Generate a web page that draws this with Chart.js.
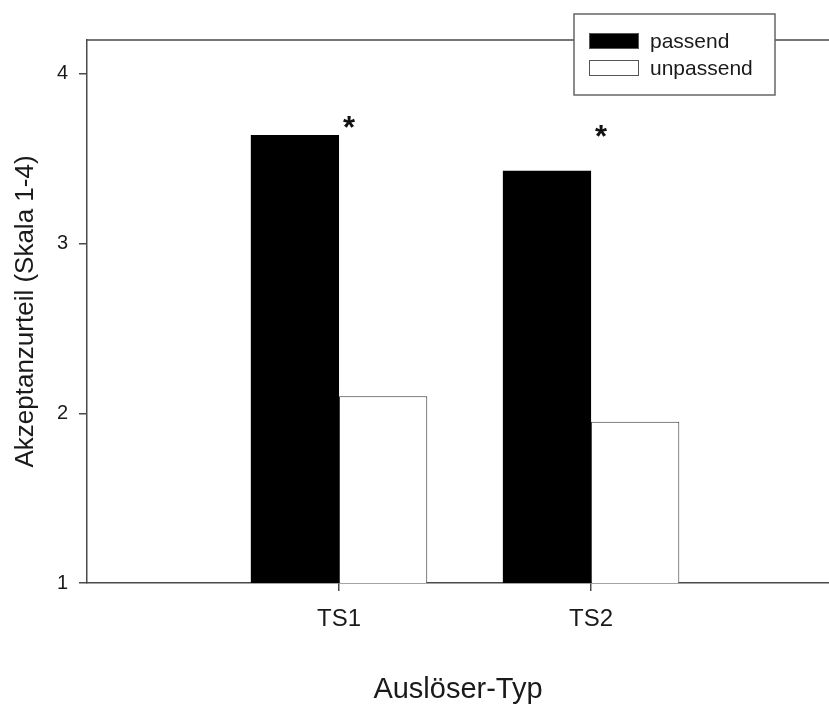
<!DOCTYPE html>
<html>
<head>
<meta charset="utf-8">
<script src="https://cdn.jsdelivr.net/npm/chart.js@4"></script>
<style>
  html, body { margin: 0; padding: 0; background: #fff; overflow: hidden; }
  #wrap { width: 829px; height: 711px; }
</style>
</head>
<body>
<div id="wrap"><canvas id="grafico" width="829" height="711"></canvas></div>
<script>
// Daten
const kategorien = ['TS1', 'TS2'];
const passend = [3.64, 3.43];
const unpassend = [2.10, 1.95];
const yTicks = [1, 2, 3, 4];
const signifikanz = ['*', '*'];

Chart.defaults.font.family = 'Arial, "Liberation Sans", sans-serif';
Chart.defaults.color = '#1a1a1a';

const achsenFarbe = '#4a4a4a';

// Sternchen (Höhe in Skalenwerten)
const sternWert = [3.72, 3.67];

// Rahmen oben + Legende + Sternchen
const extras = {
    id: 'extras',
    afterDraw(chart) {
        const ctx = chart.ctx;
        const area = chart.chartArea;
        const xs = chart.scales.x;
        const ys = chart.scales.y;

        ctx.save();
        // obere Linie
        ctx.strokeStyle = achsenFarbe;
        ctx.lineWidth = 1.5;
        ctx.beginPath();
        ctx.moveTo(area.left, area.top);
        ctx.lineTo(area.right, area.top);
        ctx.stroke();

        // Sternchen
        ctx.fillStyle = '#111';
        ctx.font = 'bold 31px Arial, "Liberation Sans", sans-serif';
        ctx.textAlign = 'center';
        ctx.textBaseline = 'alphabetic';
        signifikanz.forEach((s, i) => {
            const x = xs.getPixelForValue(i + 1) + 10;
            const y = ys.getPixelForValue(sternWert[i]) + 17;
            ctx.fillText(s, x, y);
        });

        // Legende
        ctx.fillStyle = '#fff';
        ctx.fillRect(574, 14, 201, 81);
        ctx.strokeStyle = '#666';
        ctx.lineWidth = 1.5;
        ctx.strokeRect(574, 14, 201, 81);
        ctx.font = '21px Arial, "Liberation Sans", sans-serif';
        ctx.textAlign = 'left';
        ctx.textBaseline = 'middle';
        chart.data.datasets.forEach((ds, i) => {
            const y = 33 + i * 27;
            ctx.fillStyle = ds.backgroundColor;
            ctx.fillRect(589, y, 50, 16);
            ctx.strokeStyle = '#555';
            ctx.lineWidth = 1;
            ctx.strokeRect(589.5, y + 0.5, 49, 15);
            ctx.fillStyle = '#1a1a1a';
            ctx.fillText(ds.label, 650, y + 9);
        });
        ctx.restore();
    }
};

const ctxGrafico = document.getElementById('grafico').getContext('2d');
new Chart(ctxGrafico, {
    type: 'bar',
    data: {
        datasets: [{
            label: 'passend',
            data: kategorien.map((k, i) => ({ x: i + 1, y: passend[i] })),
            backgroundColor: '#000000',
            borderColor: '#000000',
            borderWidth: 0
        }, {
            label: 'unpassend',
            data: kategorien.map((k, i) => ({ x: i + 1, y: unpassend[i] })),
            backgroundColor: '#ffffff',
            borderColor: '#333333',
            borderWidth: 1
        }]
    },
    options: {
        responsive: false,
        animation: false,
        layout: { padding: { top: 40, left: 0, right: 0, bottom: 0 } },
        categoryPercentage: 0.7,
        barPercentage: 1.0,
        plugins: {
            legend: { display: false },
            tooltip: { enabled: false }
        },
        scales: {
            x: {
                type: 'linear',
                min: 0,
                max: 2.944,
                offset: false,
                afterBuildTicks: (scale) => {
                    scale.ticks = kategorien.map((k, i) => ({ value: i + 1 }));
                },
                afterFit: (scale) => { scale.height = 128; },
                ticks: {
                    callback: (v) => kategorien[v - 1],
                    font: { size: 24 },
                    padding: 14,
                    maxRotation: 0
                },
                grid: {
                    offset: false,
                    drawOnChartArea: false,
                    drawTicks: true,
                    tickLength: 8,
                    color: achsenFarbe,
                    lineWidth: 1.5
                },
                border: { color: achsenFarbe, width: 1.5 },
                title: {
                    display: true,
                    text: 'Auslöser-Typ',
                    font: { size: 29 },
                    padding: { top: 0, bottom: 4 }
                }
            },
            y: {
                min: 1,
                max: 4.2,
                afterBuildTicks: (scale) => {
                    scale.ticks = yTicks.map(v => ({ value: v }));
                },
                afterFit: (scale) => { scale.width = 87; },
                ticks: {
                    font: { size: 20 },
                    padding: 11
                },
                grid: {
                    drawOnChartArea: false,
                    drawTicks: true,
                    tickLength: 8,
                    color: achsenFarbe,
                    lineWidth: 1.5
                },
                border: { color: achsenFarbe, width: 1.5 },
                title: {
                    display: true,
                    text: 'Akzeptanzurteil (Skala 1-4)',
                    font: { size: 26 },
                    padding: { top: 10, bottom: 0 }
                }
            }
        }
    },
    plugins: [extras]
});
</script>
</body>
</html>
